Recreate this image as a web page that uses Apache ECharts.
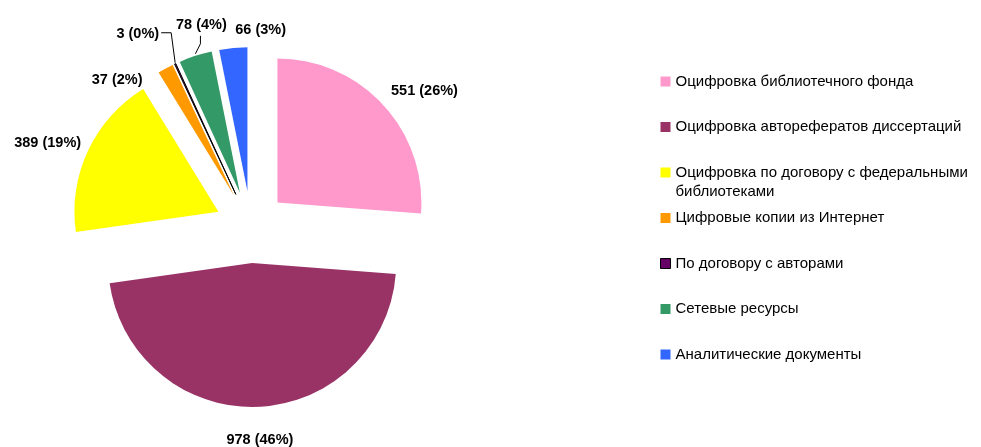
<!DOCTYPE html>
<html lang="ru">
<head>
    <meta charset="UTF-8">
    <title>Состав электронной библиотеки</title>
    <script src="https://cdn.jsdelivr.net/npm/echarts@6/dist/echarts.min.js"></script>
    <style>
        html, body { margin: 0; padding: 0; background: #fff; }
        #chart { width: 981px; height: 447px; }
    </style>
</head>
<body>
<div id="chart"></div>
<script type="text/javascript">
    // данные
    var categories = [
        'Оцифровка библиотечного фонда',
        'Оцифровка авторефератов диссертаций',
        'Оцифровка по договору с федеральными библиотеками',
        'Цифровые копии из Интернет',
        'По договору с авторами',
        'Сетевые ресурсы',
        'Аналитические документы'
    ];
    var values = [551, 978, 389, 37, 3, 78, 66];
    var percents = [26, 46, 19, 2, 0, 4, 3];
    var colors = ['#FF99CC', '#993366', '#FFFF00', '#FF9900', '#660066', '#339966', '#3366FF'];

    // где стоят подписи относительно середины дуги (как в исходной диаграмме)
    var labelShift = [[8, -14, 'left'], [3, 33, 'center'], [-7, -7, 'right'], [-23, 11, 'right'],
                      [-16, -30, 'right'], [6, -31, 'center'], [2, -18, 'left']];
    var explode = 36;

    var chart = echarts.init(document.getElementById('chart'));

    var pieData = categories.map(function (name, i) {
        var item = {
            name: name,
            value: values[i],
            selected: true,
            itemStyle: { color: colors[i] }
        };
        if (i === 4) {
            item.itemStyle.borderColor = '#000';
            item.itemStyle.borderWidth = 1;
        }
        return item;
    });

    function sliceLayout(i) {
        return chart.getModel().getSeriesByIndex(0).getData().getItemLayout(i);
    }

    chart.setOption({
        animation: false,
        color: colors,
        legend: {
            orient: 'vertical',
            left: 655,
            top: 48,
            itemWidth: 10,
            itemHeight: 10,
            itemGap: -11.5,
            icon: 'rect',
            selectedMode: false,
            formatter: function (name) {
                // длинное название в две строки, первая строка — напротив маркера
                if (name.indexOf('федеральными ') >= 0) {
                    return '\n' + name.replace('федеральными ', 'федеральными\n');
                }
                return name;
            },
            textStyle: {
                fontFamily: 'Liberation Sans, Arial, sans-serif',
                fontSize: 15,
                color: '#000',
                lineHeight: 19,
                padding: [19, 0, 19, 0]
            },
            data: categories.map(function (name, i) {
                var d = { name: name };
                if (i === 2) d.textStyle = { padding: [0, 0, 0, 0] };
                if (i === 4) d.itemStyle = { borderColor: '#000', borderWidth: 1 };
                return d;
            })
        },
        series: [{
            type: 'pie',
            center: [251, 227],
            radius: 144,
            startAngle: 90,
            clockwise: true,
            selectedMode: 'multiple',
            selectedOffset: explode,
            avoidLabelOverlap: false,
            emphasis: { disabled: true },
            label: {
                position: 'outside',
                color: '#000',
                fontFamily: 'Liberation Sans, Arial, sans-serif',
                fontWeight: 'bold',
                fontSize: 14.5,
                distanceToLabelLine: 0,
                formatter: function (p) {
                    return values[p.dataIndex] + ' (' + percents[p.dataIndex] + '%)';
                }
            },
            labelLine: {
                show: false,
                length: 12,
                length2: 4,
                lineStyle: { color: '#000', width: 1 }
            },
            labelLayout: function (params) {
                var i = params.dataIndex;
                var lay = sliceLayout(i);
                var mid = (lay.startAngle + lay.endAngle) / 2;
                var ax = lay.cx + lay.r * Math.cos(mid);
                var ay = lay.cy + lay.r * Math.sin(mid);
                var res = { align: labelShift[i][2], hideOverlap: false };
                // выноски у двух маленьких секторов
                if (i === 4) {
                    res.labelLinePoints = [[ax, ay - 1], [ax - 4, ay - 31], [ax - 14, ay - 31]];
                } else if (i === 5) {
                    res.labelLinePoints = [[ax, ay - 2], [ax + 5, ay - 12], [ax + 5, ay - 20]];
                }
                return res;
            },
            data: pieData
        }]
    });

    // второй проход: длины выносок из раскладки секторов, чтобы подписи встали на места
    var tuned = pieData.map(function (item, i) {
        var lay = sliceLayout(i);
        var mid = (lay.startAngle + lay.endAngle) / 2;
        var dx = Math.cos(mid), dy = Math.sin(mid);
        var s = labelShift[i];
        var len = s[1] / dy;
        var len2 = (s[0] - len * dx) * (dx < 0 ? -1 : 1);
        return Object.assign({}, item, {
            labelLine: { show: i === 4 || i === 5, length: len, length2: len2 }
        });
    });
    chart.setOption({ series: [{ data: tuned }] });
</script>
</body>
</html>
